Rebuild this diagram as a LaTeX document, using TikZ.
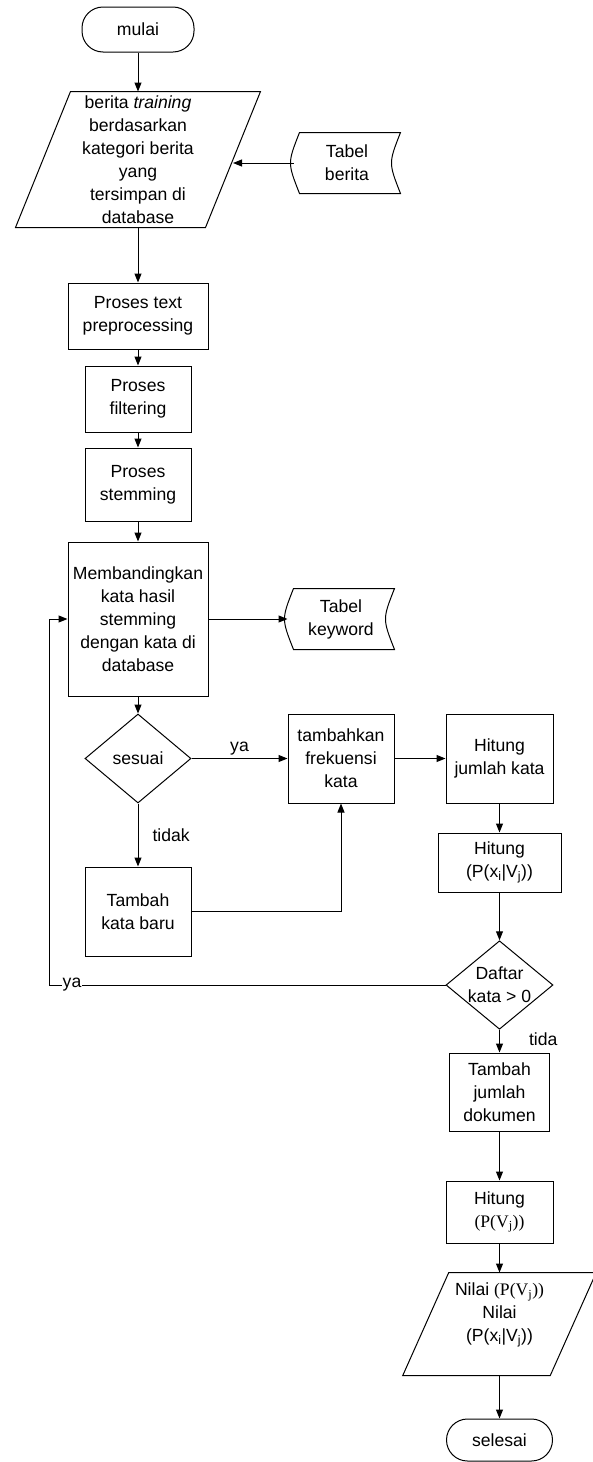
\documentclass[tikz,border=0pt]{standalone}
\usepackage{fontspec}
\setmainfont{Liberation Sans}
\newfontfamily\timesfont{Liberation Serif}
\usetikzlibrary{arrows.meta,shapes.geometric}

\newcommand{\fsize}{\fontsize{17.6}{23}\selectfont}
% stored data outline around a (blank) node
\newcommand{\storeshape}[1]{%
  \draw (#1.north east) .. controls ([xshift=-12pt]#1.east) .. (#1.south east)
    -- ([xshift=6pt]#1.south west) .. controls ([xshift=-6pt]#1.west) .. ([xshift=6pt]#1.north west) -- cycle;}
% input/output parallelogram around a (blank) node
\newcommand{\ioshape}[2]{%
  \draw ([xshift=#2]#1.north west) -- ([xshift=#2]#1.north east)
    -- ([xshift=-#2]#1.south east) -- ([xshift=-#2]#1.south west) -- cycle;}

\tikzset{
  every node/.style={font=\fsize, align=center, inner sep=0pt},
  proc/.style={draw, rectangle},
  term/.style={draw, rectangle, rounded corners=21pt},
  decision/.style={draw, diamond, aspect=1.2},
  arr/.style={-{Triangle[length=9pt,width=7pt]}}
}

\begin{document}
\begin{tikzpicture}[x=1pt,y=-1pt,line width=1pt]
  \useasboundingbox (0,0) rectangle (592,1462);

  \node[term, minimum width=112pt, minimum height=45pt] (mulai) at (138,29.5) {mulai};
  \node[minimum width=189pt, minimum height=135pt] (inp) at (138,159.5)
    {berita \textit{training}\\berdasarkan\\kategori berita\\yang\\tersimpan di\\database};
  \ioshape{inp}{27.5pt}
  \node[minimum width=106pt, minimum height=60pt] (tblberita) at (347,163) {Tabel\\berita};
  \storeshape{tblberita}

  \node[proc, minimum width=140pt, minimum height=66pt] (prep) at (138,316) {Proses text\\preprocessing};
  \node[proc, minimum width=106pt, minimum height=66pt] (filter) at (138,399) {Proses\\filtering};
  \node[proc, minimum width=106pt, minimum height=73pt] (stem) at (138,484.5) {Proses\\stemming};
  \node[proc, minimum width=140pt, minimum height=154pt] (banding) at (138,619)
    {Membandingkan\\kata hasil\\stemming\\dengan kata di\\database};
  \node[minimum width=106pt, minimum height=60pt] (tblkey) at (341,619) {Tabel\\keyword};
  \storeshape{tblkey}

  \node[decision, minimum width=106pt, minimum height=89pt] (sesuai) at (138,758.5) {sesuai};
  \node[proc, minimum width=106pt, minimum height=89pt] (tambahfrek) at (341,758.5) {tambahkan\\frekuensi\\kata};
  \node[proc, minimum width=107pt, minimum height=89pt] (hitjml) at (499.5,758.5) {Hitung\\jumlah kata};
  \node[proc, minimum width=123pt, minimum height=59pt] (hitpx) at (499.5,862.5)
    {Hitung\\(P(x\textsubscript{i}|V\textsubscript{j}))};
  \node[proc, minimum width=106pt, minimum height=89pt] (tambahbaru) at (138,911.5) {Tambah\\kata baru};
  \node[decision, minimum width=107pt, minimum height=88pt] (daftar) at (499.5,985) {Daftar\\kata > 0};
  \node[proc, minimum width=100pt, minimum height=78pt] (tambahdok) at (499.5,1092) {Tambah\\jumlah\\dokumen};
  \node[proc, minimum width=107pt, minimum height=62pt] (hitpv) at (499.5,1212)
    {Hitung\\{\timesfont (P(V\textsubscript{j}))}};
  \node[minimum width=146.5pt, minimum height=102pt] (nilai) at (499.5,1324)
    {Nilai {\timesfont (P(V\textsubscript{j}))}\\Nilai\\(P(x\textsubscript{i}|V\textsubscript{j}))\\\mbox{}};
  \ioshape{nilai}{23pt}
  \node[term, minimum width=106pt, minimum height=42pt] (selesai) at (499.5,1440) {selesai};

  % alur utama
  \foreach \a/\b in {mulai/inp,inp/prep,prep/filter,filter/stem,stem/banding,banding/sesuai,
                     hitjml/hitpx,hitpx/daftar,tambahdok/hitpv,hitpv/nilai,nilai/selesai}
    \draw[arr] (\a.south) -- (\b.north);
  \draw[arr] (tblberita.west) -- (tblberita.west -| inp.east);
  \draw[arr] (banding.east) -- (tblkey.west);
  \draw[arr] (sesuai.east) -- node[above=3pt] (lblya) {ya} (tambahfrek.west);
  \draw[arr] (sesuai.south) -- node[right=14pt] (lbltidak) {tidak} (tambahbaru.north);
  \draw[arr] (tambahbaru.east) -| (tambahfrek.south);
  \draw[arr] (tambahfrek.east) -- (hitjml.west);
  \draw[arr] (daftar.south) -- node[pos=0.4, right=29pt] (lbltida) {tida} (tambahdok.north);

  % kembali ke perbandingan
  \coordinate (loop) at (49,985);
  \draw[arr] (daftar.west) -- (loop) |- (banding.west);
  \node[fill=white, inner xsep=1pt] (lblyaloop) at (72,985) {ya};
\end{tikzpicture}
\end{document}
